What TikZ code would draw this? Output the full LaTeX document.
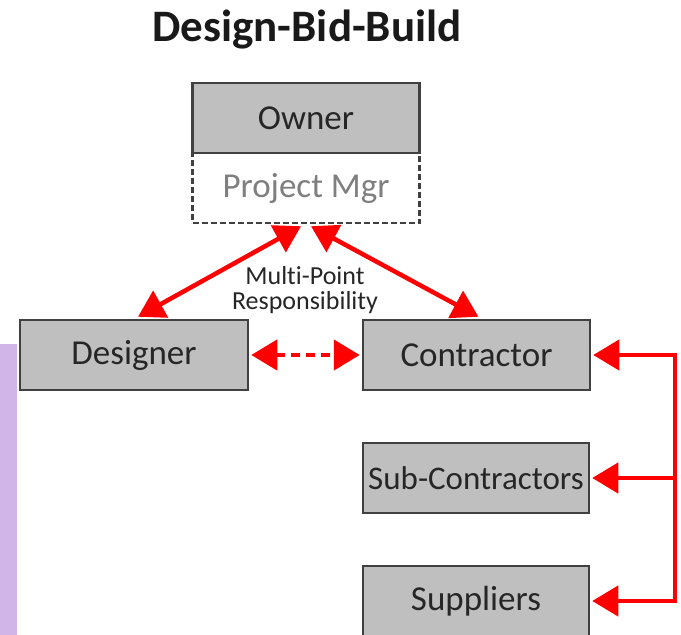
\documentclass[tikz,border=0pt]{standalone}
\usepackage{fontspec}
\setmainfont{Carlito}[Ligatures={NoCommon}]
\usetikzlibrary{arrows.meta,calc}
\definecolor{boxfill}{HTML}{BFBFBF}
\definecolor{boxline}{HTML}{404040}
\definecolor{txt}{HTML}{262626}
\definecolor{pmtxt}{HTML}{7F7F7F}
\definecolor{arrred}{HTML}{FF0000}
\definecolor{lilac}{HTML}{D1B4E8}
\tikzset{
  rolebox/.style={draw=boxline, line width=2.5pt, fill=boxfill, text=txt,
    minimum width=227pt, minimum height=70pt, inner sep=0pt,
    font=\fontsize{35}{40}\selectfont},
  pmbox/.style={draw=boxline, line width=2.5pt, dash pattern=on 6pt off 3pt, fill=white, text=pmtxt,
    minimum width=227pt, minimum height=70pt, inner sep=0pt,
    font=\fontsize{35}{40}\selectfont},
  redline/.style={draw=arrred, line width=4.5pt},
  redarr/.style={redline, -{Triangle[length=26pt,width=30pt]}},
  redboth/.style={redline, {Triangle[length=26pt,width=30pt]}-{Triangle[length=26pt,width=30pt]}},
}
\begin{document}
\begin{tikzpicture}[x=1pt,y=-1pt]
\useasboundingbox (0,0) rectangle (681,635);
\clip (0,0) rectangle (681,635);
\fill[lilac] (0,344) rectangle (17,635);
\node[font=\fontsize{45}{50}\selectfont\bfseries, text=black!90] (title) at (307,30) {Design-Bid-Build};
\node[pmbox] (pm) at (306,188) {Project Mgr};
\node[rolebox] (owner) at (306,118) {Owner};
\node[rolebox, minimum width=228pt] (designer) at (134,355) {Designer};
\node[rolebox] (contractor) at (476.5,355) {Contractor};
\node[rolebox, minimum width=226pt, font=\fontsize{33}{40}\selectfont] (sub) at (476,478) {Sub-Contractors};
\node[rolebox, minimum width=226pt] (sup) at (476,601) {Suppliers};
\node[text=txt, align=center, font=\fontsize{26}{25}\selectfont] (mp) at (305,290) {Multi-Point\\Responsibility};
\draw[redboth] ($(pm.south)+(-5,2)$) -- ($(designer.north)+(4,-2)$);
\draw[redboth] ($(pm.south)+(5,2)$) -- ($(contractor.north)+(2,-2)$);
\draw[redboth, dash pattern=on 9pt off 6pt] ($(designer.east)+(2,0)$) -- ($(contractor.west)+(-2,0)$);
\coordinate (r) at (675,355);
\draw[redline, line cap=rect] (r) -- (r |- sup);
\draw[redarr] (r) -- ($(contractor.east)+(2,0)$);
\draw[redarr] (r |- sub) -- ($(sub.east)+(2,0)$);
\draw[redarr] (r |- sup) -- ($(sup.east)+(2,0)$);
\end{tikzpicture}
\end{document}
